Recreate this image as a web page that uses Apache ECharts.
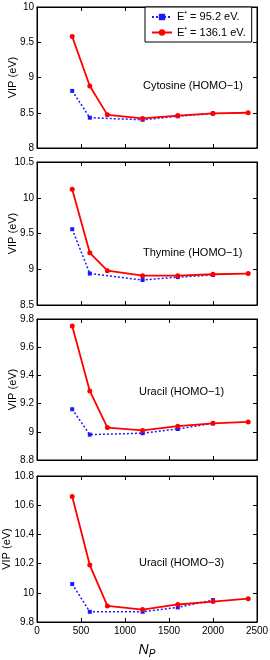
<!DOCTYPE html>
<html><head><meta charset="utf-8">
<script src="https://cdn.jsdelivr.net/npm/echarts@6/dist/echarts.min.js"></script>
<style>html,body{margin:0;padding:0;background:#fff}#c{width:270px;height:660px}</style>
</head><body><div id="c"></div>
<script>
// N_P values
const npRed = [400, 600, 800, 1200, 1600, 2000, 2400];
const npBlue = [400, 600, 1200, 1600, 2000];
// Panel labels
const panelLabels = ['Cytosine (HOMO\u22121)', 'Thymine (HOMO\u22121)', 'Uracil (HOMO\u22121)', 'Uracil (HOMO\u22123)'];
// Series names
const nameBlue = 'E* = 95.2 eV.';
const nameRed = 'E* = 136.1 eV.';
// VIP values (eV), E*=95.2 (blue)
const blueCyt = [8.81, 8.43, 8.40, 8.45, 8.49];
const blueThy = [9.56, 8.94, 8.85, 8.89, 8.92];
const blueUra1 = [9.16, 8.98, 8.99, 9.02, 9.06];
const blueUra3 = [10.06, 9.87, 9.87, 9.90, 9.95];
// VIP values (eV), E*=136.1 (red)
const redCyt = [9.58, 8.88, 8.47, 8.42, 8.46, 8.49, 8.50];
const redThy = [10.12, 9.23, 8.98, 8.91, 8.91, 8.93, 8.94];
const redUra1 = [9.75, 9.29, 9.03, 9.01, 9.04, 9.06, 9.07];
const redUra3 = [10.66, 10.19, 9.91, 9.885, 9.92, 9.94, 9.96];
// y-axis ranges
const yMins = [8, 8.5, 8.8, 9.8];
const yMaxs = [10, 10.5, 9.8, 10.8];
const yIntervals = [0.5, 0.5, 0.2, 0.2];
// x-axis
const xMin = 0, xMax = 2500, xInterval = 500;

const blues = [blueCyt, blueThy, blueUra1, blueUra3];
const reds = [redCyt, redThy, redUra1, redUra3];

const FONT = 'Liberation Sans';
const gridTops = [7, 162, 319, 476];
const gridBottoms = [148, 305, 460, 622];
const L = 37, R = 257;
const yNameGaps = [19, 19, 19, 25];

const grids = [], xAxes = [], yAxes = [], series = [], graphics = [];
const labelY = [87, 254, 393, 564];
const labelX = [143, 143, 139, 139];
for (let i = 0; i < 4; i++) {
  grids.push({left: L, width: R - L, top: gridTops[i], height: gridBottoms[i] - gridTops[i],
    containLabel: false, outerBoundsMode: 'none',
    show: true, borderColor: '#000', borderWidth: 1, backgroundColor: '#fff'});
  const last = i === 3;
  xAxes.push({type: 'value', gridIndex: i, min: xMin, max: xMax, interval: xInterval, position: 'bottom',
    axisLine: {show: true, onZero: false, lineStyle: {color: '#000', width: 1}},
    axisTick: {show: true, inside: true, length: 4, lineStyle: {color: '#000'}},
    axisLabel: {show: last, color: '#000', fontFamily: FONT, fontSize: 10, margin: 4, formatter: v => String(v),
      hideOverlap: false},
    splitLine: {show: false},
    name: last ? '{n|N}{p|P}' : '', nameLocation: 'middle', nameGap: 19, nameMoveOverlap: false,
    nameTextStyle: {rich: {n: {fontFamily: FONT, fontSize: 14, fontStyle: 'italic', color: '#000'},
      p: {fontFamily: FONT, fontSize: 10, fontStyle: 'italic', color: '#000', verticalAlign: 'bottom', padding: [8, 0, 0, 0]}}}
  });
  xAxes.push({type: 'value', gridIndex: i, min: xMin, max: xMax, interval: xInterval, position: 'top',
    axisLine: {show: true, onZero: false, lineStyle: {color: '#000', width: 1}},
    axisTick: {show: true, inside: true, length: 4, lineStyle: {color: '#000'}},
    axisLabel: {show: false}, splitLine: {show: false}});
  yAxes.push({type: 'value', gridIndex: i, min: yMins[i], max: yMaxs[i], interval: yIntervals[i], position: 'left',
    axisLine: {show: true, onZero: false, lineStyle: {color: '#000', width: 1}},
    axisTick: {show: true, inside: true, length: 4, lineStyle: {color: '#000'}},
    axisLabel: {color: '#000', fontFamily: FONT, fontSize: 10, margin: 3, hideOverlap: false,
      formatter: v => String(parseFloat(v.toFixed(2)))},
    splitLine: {show: false},
    name: 'VIP (eV)', nameLocation: 'middle', nameGap: yNameGaps[i], nameMoveOverlap: false,
    nameTextStyle: {fontFamily: FONT, fontSize: 11, color: '#000'}
  });
  yAxes.push({type: 'value', gridIndex: i, min: yMins[i], max: yMaxs[i], interval: yIntervals[i], position: 'right',
    axisLine: {show: true, onZero: false, lineStyle: {color: '#000', width: 1}},
    axisTick: {show: true, inside: true, length: 4, lineStyle: {color: '#000'}},
    axisLabel: {show: false}, splitLine: {show: false}});
  series.push({type: 'line', name: nameBlue, xAxisIndex: 2 * i, yAxisIndex: 2 * i,
    data: npBlue.map((x, k) => [x, blues[i][k]]),
    symbol: 'rect', symbolSize: 4, showSymbol: true,
    lineStyle: {color: '#1a1aff', width: 1.5, type: [2, 2]},
    itemStyle: {color: '#1a1aff'}, z: 3, animation: false});
  series.push({type: 'line', name: nameRed, xAxisIndex: 2 * i, yAxisIndex: 2 * i,
    data: npRed.map((x, k) => [x, reds[i][k]]),
    symbol: 'circle', symbolSize: 5, showSymbol: true,
    lineStyle: {color: '#ff0000', width: 1.8},
    itemStyle: {color: '#ff0000'}, z: 4, animation: false});
  graphics.push({type: 'text', left: labelX[i], top: labelY[i] - 7, z: 10,
    style: {text: panelLabels[i], font: '11px "Liberation Sans"', fill: '#000'}});
}

const chart = echarts.init(document.getElementById('c'), null, {renderer: 'canvas'});
chart.setOption({
  animation: false,
  backgroundColor: '#fff',
  grid: grids, xAxis: xAxes, yAxis: yAxes, series: series, graphic: graphics,
  legend: {
    data: [nameBlue, nameRed], orient: 'vertical', left: 145, top: 7,
    backgroundColor: '#fff', borderColor: '#000', borderWidth: 1, borderRadius: 0,
    padding: [4, 6, 4, 6], itemGap: 4, itemWidth: 20, itemHeight: 8,
    formatter: n => n === nameBlue ? '{a|E}{s|*}{a| = 95.2 eV.}' : '{a|E}{s|*}{a| = 136.1 eV.}',
    textStyle: {rich: {
      a: {fontFamily: FONT, fontSize: 11, color: '#000', lineHeight: 12},
      s: {fontFamily: FONT, fontSize: 7, color: '#000', verticalAlign: 'top', lineHeight: 12}
    }}
  }
});
</script></body></html>
